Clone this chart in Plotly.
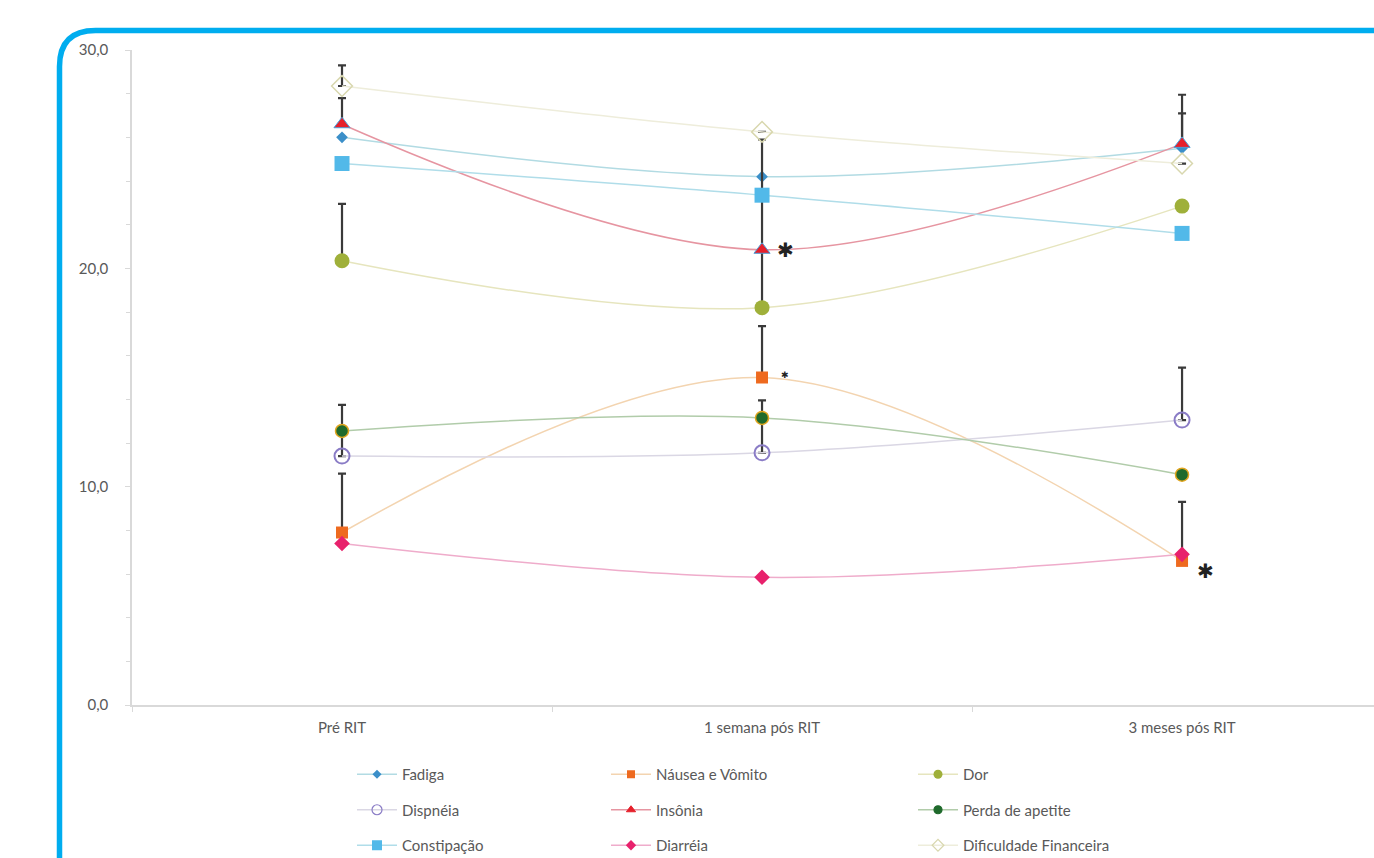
import plotly.graph_objects as go

# Time points of the assessment
categories = ["Pré RIT", "1 semana pós RIT", "3 meses pós RIT"]

# Mean scores per symptom
fadiga = [26.0, 24.2, 25.5]
nausea = [7.9, 15.0, 6.6]
dor = [20.35, 18.2, 22.85]
dispneia = [11.4, 11.55, 13.05]
insonia = [26.6, 20.85, 25.7]
perda_apetite = [12.55, 13.15, 10.55]
constipacao = [24.8, 23.35, 21.6]
diarreia = [7.4, 5.85, 6.9]
dificuldade = [28.35, 26.25, 24.8]

# Upper error bars (standard error)
fadiga_err = [0, 0, 1.6]
nausea_err = [2.7, 2.35, 2.7]
dor_err = [2.6, 2.6, 0]
dispneia_err = [1.2, 1.6, 2.4]
insonia_err = [1.2, 5.05, 2.25]
perda_err = [1.2, 0.8, 0]
constipacao_err = [0, 0, 0]
diarreia_err = [0, 0, 0]
dificuldade_err = [0.95, 0, 0]

series = [
    # name, values, errors, line colour, symbol, size, legend size, fill, outline colour, outline width, legend
    ("Fadiga", fadiga, fadiga_err, "#b2dbe3", "diamond", 9, 7, "#3b8fc9", "#3b8fc9", 0, "legend"),
    ("Náusea e Vômito", nausea, nausea_err, "#f3d4b0", "square", 12, 8, "#ee6a1f", "#ee6a1f", 0, "legend2"),
    ("Dor", dor, dor_err, "#e6e5be", "circle", 15, 9, "#9fb03a", "#9fb03a", 0, "legend3"),
    ("Dispnéia", dispneia, dispneia_err, "#dad7e4", "circle-open", 15, 10, "#8a7cc6", "#9a98a8", 2, "legend"),
    ("Insônia", insonia, insonia_err, "#e695a1", "triangle-up", 14, 8, "#e6202b", "#e6202b", 1, "legend2"),
    ("Perda de apetite", perda_apetite, perda_err, "#b1ccaa", "circle", 13, 8, "#1f6a2c", "#1f6a2c", 1.5, "legend3"),
    ("Constipação", constipacao, constipacao_err, "#b0dde9", "square", 15, 10, "#52b9e9", "#52b9e9", 0, "legend"),
    ("Diarréia", diarreia, diarreia_err, "#efaccb", "diamond", 12, 8, "#e8216c", "#e8216c", 0, "legend2"),
    ("Dificuldade Financeira", dificuldade, dificuldade_err, "#eeeddb", "diamond-open", 16, 9, "#d8d7ae", "#e2e1c4", 1.5, "legend3"),
]
outline = {"Dispnéia": "#8a7cc6", "Insônia": "#4b9fd8", "Perda de apetite": "#e0a51f",
           "Dificuldade Financeira": "#d8d7ae"}

fig = go.Figure()
for name, vals, errs, lcol, sym, size, lsize, fill, lgcol, ow, leg in series:
    fig.add_trace(go.Scatter(
        x=categories, y=vals, name=name,
        mode="lines+markers",
        line=dict(color=lcol, width=1.5, shape="spline", smoothing=1.0),
        marker=dict(symbol=sym, size=size, color=fill,
                    line=dict(width=ow, color=outline.get(name, fill))),
        error_y=dict(type="data", array=errs, arrayminus=[0] * len(errs), symmetric=False,
                     color="#3a3a3a", thickness=2.2, width=4),
        showlegend=False, cliponaxis=False,
    ))
    # legend entry with a smaller marker
    fig.add_trace(go.Scatter(
        x=[None], y=[None], name=name, mode="lines+markers",
        line=dict(color=lcol, width=1.5),
        marker=dict(symbol=sym, size=lsize, color=fill, line=dict(width=min(ow, 1.2), color=lgcol)),
        legend=leg, legendgroup=name, showlegend=True,
    ))

# Significance markers
stars = [
    (categories[1], insonia[1], 20, 0),
    (categories[1], nausea[1], 9, 3),
    (categories[2], nausea[2], 20, -10),
]
for x, y, size, yshift in stars:
    fig.add_annotation(x=x, y=y, text="✱", showarrow=False, xshift=23, yshift=yshift,
                       font=dict(size=size, color="#222222", family="DejaVu Sans"))

W, H = 1374, 858
L, T, B = 132, 50, 153
PW, PH = W - L, H - T - B


def px(xp):
    return (xp - L) / PW


def py(yp):
    return (H - B - yp) / PH


# Rounded blue border around the chart
x0, y0, r = 59.5, 30.5, 36
path = (f"M {px(x0)},{py(H + 20)} L {px(x0)},{py(y0 + r)} "
        f"Q {px(x0)},{py(y0)} {px(x0 + r)},{py(y0)} L {px(W + 20)},{py(y0)}")
fig.add_shape(type="path", path=path, xref="paper", yref="paper",
              line=dict(color="#00adef", width=5.5), layer="above")

font_col = "#595959"
fnt = dict(family="Lato", size=15, color=font_col)
legend_common = dict(orientation="v", yanchor="top", y=py(758), xanchor="left",
                     font=fnt, bgcolor="rgba(0,0,0,0)", itemwidth=40, tracegroupgap=13,
                     itemclick=False)

fig.update_layout(
    width=W, height=H,
    margin=dict(l=L, r=0, t=T, b=B, autoexpand=False),
    paper_bgcolor="white", plot_bgcolor="white",
    separators=",.",
    font=fnt,
    legend=dict(legend_common, x=px(352)),
    legend2=dict(legend_common, x=px(606)),
    legend3=dict(legend_common, x=px(913)),
    xaxis=dict(type="category", range=[-0.5, 2.457], showline=True, linecolor="#d9d9d9", linewidth=1.5,
               showgrid=False, zeroline=False, ticks="outside", tickson="boundaries", ticklen=5,
               tickcolor="#d9d9d9", ticklabelstandoff=8, tickfont=fnt),
    yaxis=dict(range=[0, 30], dtick=10, tickformat=".1f", showline=True, linecolor="#d9d9d9",
               linewidth=1.5, showgrid=False, zeroline=False, ticks="outside", ticklen=5,
               tickcolor="#d9d9d9", ticklabelstandoff=14,
               minor=dict(dtick=2, ticks="outside", ticklen=4, tickcolor="#d9d9d9", showgrid=False),
               tickfont=fnt),
)

fig.write_html("out.html")
